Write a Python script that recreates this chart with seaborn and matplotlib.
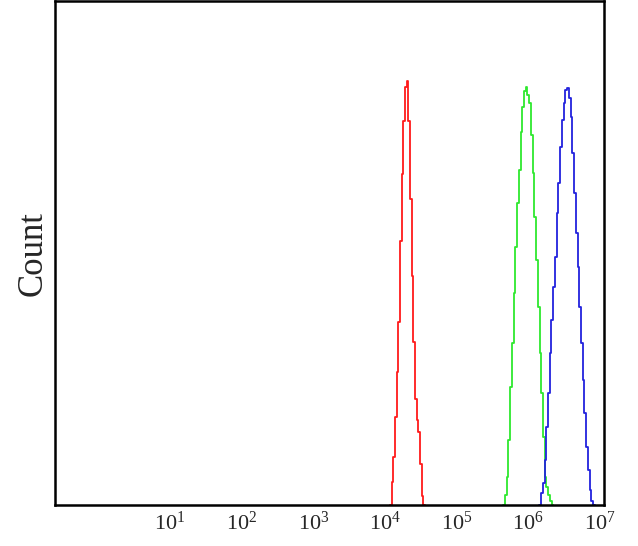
import numpy as np
import pandas as pd
import matplotlib
matplotlib.use("Agg")
import matplotlib.pyplot as plt
import seaborn as sns

# histogram counts (arbitrary count units), log10 channel ranges
red_range = (4.070, 4.558)
red_counts = [0, 23, 48, 88, 133, 183, 264, 331, 384, 418, 424, 384, 306, 229,
              163, 106, 85, 73, 41, 9, 0]

green_range = (5.650, 6.349)
green_counts = [0, 10, 28, 65, 118, 162, 212, 258, 302, 335, 373, 398, 414, 418,
                410, 402, 370, 332, 288, 245, 198, 152, 112, 68, 28, 18, 10, 4, 0]

blue_range = (6.153, 6.929)
blue_counts = [0, 12, 22, 45, 78, 112, 152, 185, 218, 248, 292, 322, 358, 385, 402,
               415, 417, 407, 388, 352, 312, 272, 238, 198, 162, 125, 92, 58,
               35, 15, 4, 0]

tick_exps = [1, 2, 3, 4, 5, 6, 7]

sns.set_style("white")
plt.rcParams["font.family"] = ["Liberation Serif", "DejaVu Serif"]
plt.rcParams["mathtext.fontset"] = "custom"
plt.rcParams["mathtext.rm"] = "Liberation Serif"
plt.rcParams["mathtext.it"] = "Liberation Serif:italic"

fig = plt.figure(figsize=(6.38, 5.46), dpi=100)
ax = fig.add_axes([55 / 638, 1 - 505 / 546, 549 / 638, 504 / 546])

for rng, counts, col in [(red_range, red_counts, "#ff1a1a"),
                         (green_range, green_counts, "#2ee82e"),
                         (blue_range, blue_counts, "#2222dd")]:
    n = len(counts)
    edges = np.linspace(rng[0], rng[1], n + 1)
    centers = (edges[:-1] + edges[1:]) / 2
    d = pd.DataFrame({"x": centers, "w": counts})
    sns.histplot(data=d, x="x", weights="w", bins=n, binrange=rng,
                 element="step", fill=False, color=col, linewidth=1.3, ax=ax)

ax.set_xlim(-0.605, 7.056)
ax.set_ylim(0, 504)
ax.set_xticks(tick_exps)
ax.set_xticklabels([r"$10^{%d}$" % e for e in tick_exps], fontsize=16)
ax.set_yticks([])
ax.tick_params(axis="x", length=0, pad=5)
ax.set_xlabel("")
ax.set_ylabel("Count", fontsize=25, labelpad=4)
for s in ax.spines.values():
    s.set_visible(True)
    s.set_color("black")
    s.set_linewidth(1.8)

fig.savefig("out.png", dpi=100)
